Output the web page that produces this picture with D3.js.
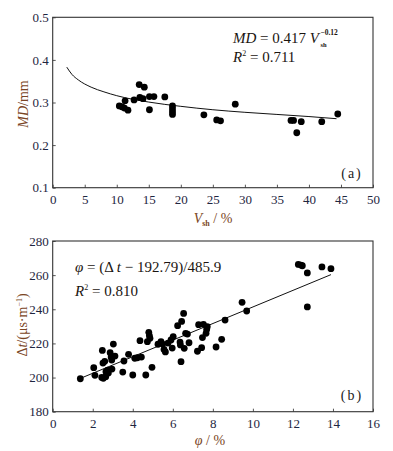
<!DOCTYPE html>
<html>
<head>
<meta charset="utf-8">
<script src="https://cdn.jsdelivr.net/npm/d3@7"></script>
<style>
  body { margin: 0; background: #fff; }
  svg { display: block; }
  text { font-family: "Liberation Serif", "DejaVu Serif", serif; }
</style>
</head>
<body>
<div id="app"></div>
<script>
// (a) mean diameter vs shale content
const vsh = [10.4, 10.8, 11.3, 11.2, 11.75, 12.7, 13.5, 14.3, 13.6, 14.1, 15.1, 15.1, 15.8, 17.5,
  18.7, 18.7, 18.7, 18.7, 23.6, 25.6, 26.2, 28.5, 37.2, 37.6, 38.1, 38.8, 42.0, 44.5];
const md = [0.292, 0.290, 0.304, 0.287, 0.282, 0.306, 0.342, 0.336, 0.312, 0.309, 0.314, 0.283, 0.314, 0.313,
  0.292, 0.285, 0.278, 0.272, 0.271, 0.259, 0.257, 0.296, 0.258, 0.258, 0.229, 0.255, 0.255, 0.273];
// fitted curve
const fitAx = [2.2, 3, 4, 6, 8, 10, 15, 20, 25, 30, 35, 40, 44.3];
const fitAy = [0.383, 0.366, 0.353, 0.336, 0.325, 0.316, 0.301, 0.291, 0.283, 0.277, 0.272, 0.267, 0.262];
const xTicksA = [0, 5, 10, 15, 20, 25, 30, 35, 40, 45, 50];
const yTicksA = [0.1, 0.2, 0.3, 0.4, 0.5];

// (b) interval transit time vs porosity
const phi = [1.38, 2.05, 2.11, 2.45, 2.48, 2.51, 2.6, 2.65, 2.66, 2.75, 2.78, 2.53, 2.87, 2.92, 2.95, 3.03,
  3.11, 2.96, 3.5, 3.56, 3.79, 4.0, 4.1, 4.23, 4.36, 4.43, 4.65, 4.73, 4.8, 4.83, 4.86, 4.96,
  5.26, 5.41, 5.49, 5.56, 5.63, 5.76, 5.91, 5.97, 6.02, 6.24, 6.36, 6.38, 6.41, 6.44, 6.54, 6.57,
  6.64, 6.73, 6.81, 7.23, 7.29, 7.44, 7.48, 7.53, 7.66, 7.69, 7.72, 8.16, 8.44, 8.61, 9.46, 9.69,
  12.27, 12.4, 12.47, 12.72, 12.72, 13.45, 13.9];
const dt = [199.3, 205.8, 201.3, 200.1, 215.9, 208.5, 209.5, 200.5, 203.4, 204.4, 202.7, 199.6, 214.6, 212.0, 210.3, 219.6,
  212.6, 205.0, 203.2, 209.7, 213.6, 201.5, 211.3, 211.6, 221.6, 212.0, 201.5, 221.0, 226.5, 224.5, 223.0, 206.0,
  219.5, 221.0, 219.6, 216.5, 215.0, 220.2, 222.0, 217.3, 224.0, 230.4, 220.8, 219.1, 209.3, 232.9, 237.6, 217.1,
  225.9, 225.5, 220.4, 215.4, 231.0, 217.5, 223.4, 231.2, 225.9, 228.2, 229.8, 217.9, 222.4, 233.7, 244.1, 239.0,
  266.3, 265.9, 265.5, 261.3, 241.4, 264.8, 263.8];
const fitBx = [1.4, 13.9];
const fitBy = [199.6, 260.3];
const xTicksB = [0, 2, 4, 6, 8, 10, 12, 14, 16];
const yTicksB = [180, 200, 220, 240, 260, 280];

const width = 393, height = 451;
const tickColor = "#1e2640";
const titleColor = "#7a4524";
const inkColor = "#1a1410";

const svg = d3.select("#app").append("svg")
  .attr("width", width).attr("height", height)
  .attr("viewBox", [0, 0, width, height]);

function panel(o) {
  const x = d3.scaleLinear().domain(o.xDomain).range([o.left, o.right]);
  const y = d3.scaleLinear().domain(o.yDomain).range([o.bottom, o.top]);
  const g = svg.append("g");

  const xAxis = g.append("g")
    .attr("transform", `translate(0,${o.bottom})`)
    .call(d3.axisBottom(x).tickValues(o.xTicks).tickSize(-3).tickSizeOuter(0).tickPadding(7));
  const yAxis = g.append("g")
    .attr("transform", `translate(${o.left},0)`)
    .call(d3.axisLeft(y).tickValues(o.yTicks).tickSize(-3).tickSizeOuter(0).tickPadding(4)
      .tickFormat(o.yFormat || null));
  [xAxis, yAxis].forEach(a => {
    a.select(".domain").remove();
    a.selectAll(".tick line").attr("stroke", "#555");
    a.selectAll(".tick text")
      .attr("fill", tickColor)
      .style("font-size", "13px")
      .style("font-family", "'Liberation Serif', serif");
  });

  // frame
  g.append("rect")
    .attr("x", o.left).attr("y", o.top)
    .attr("width", o.right - o.left).attr("height", o.bottom - o.top)
    .attr("fill", "none").attr("stroke", "#333").attr("stroke-width", 1.1);

  // fit line
  const pts = o.fitX.map((v, i) => [v, o.fitY[i]]);
  g.append("path")
    .datum(pts)
    .attr("fill", "none").attr("stroke", "#111").attr("stroke-width", 1)
    .attr("d", d3.line().x(d => x(d[0])).y(d => y(d[1])).curve(d3.curveMonotoneX));

  // points
  g.append("g").selectAll("circle")
    .data(o.xs.map((v, i) => [v, o.ys[i]]))
    .join("circle")
    .attr("cx", d => x(d[0])).attr("cy", d => y(d[1]))
    .attr("r", 3.4).attr("fill", "#000");

  // panel tag
  g.append("text")
    .attr("x", o.tagX).attr("y", o.tagY)
    .attr("text-anchor", "middle")
    .attr("fill", "#222")
    .style("font-size", "14px")
    .style("letter-spacing", "2px")
    .text(o.tag);

  return { g, x, y };
}

const a = panel({
  left: 52.7, right: 373, top: 17.3, bottom: 187.7,
  xDomain: [0, 50], yDomain: [0.1, 0.5],
  xTicks: xTicksA, yTicks: yTicksA, yFormat: d3.format(".1f"),
  xs: vsh, ys: md, fitX: fitAx, fitY: fitAy,
  tag: "(a)", tagX: 352, tagY: 178
});

const b = panel({
  left: 52.7, right: 373, top: 241, bottom: 411.7,
  xDomain: [0, 16], yDomain: [180, 280],
  xTicks: xTicksB, yTicks: yTicksB,
  xs: phi, ys: dt, fitX: fitBx, fitY: fitBy,
  tag: "(b)", tagX: 352, tagY: 400
});

// equation (a)
const eqA = svg.append("text").attr("x", 233).attr("y", 43)
  .attr("fill", inkColor).style("font-size", "15px");
eqA.append("tspan").style("font-style", "italic").text("MD");
eqA.append("tspan").text(" = 0.417 ");
eqA.append("tspan").style("font-style", "italic").text("V");
// exponent and subscript sit stacked just after the V
const eqEnd = 233 + eqA.node().getComputedTextLength() + 1.5;
svg.append("text").attr("x", eqEnd).attr("y", 34.5).attr("fill", inkColor)
  .style("font-size", "7.5px").style("font-weight", "bold").text("−0.12");
svg.append("text").attr("x", eqEnd).attr("y", 47).attr("fill", inkColor)
  .style("font-size", "6.5px").style("font-weight", "bold").text("sh");

const r2A = svg.append("text").attr("x", 233).attr("y", 62)
  .attr("fill", inkColor).style("font-size", "15px");
r2A.append("tspan").style("font-style", "italic").text("R");
r2A.append("tspan").attr("dy", -6).style("font-size", "8px").text("2");
r2A.append("tspan").attr("dy", 6).text(" = 0.711");

// equation (b)
const eqB = svg.append("text").attr("x", 75).attr("y", 272)
  .attr("fill", inkColor).style("font-size", "15px");
eqB.append("tspan").style("font-style", "italic").text("φ");
eqB.append("tspan").text(" = (Δ ");
eqB.append("tspan").style("font-style", "italic").text("t");
eqB.append("tspan").text(" − 192.79)/485.9");

const r2B = svg.append("text").attr("x", 75).attr("y", 296)
  .attr("fill", inkColor).style("font-size", "15px");
r2B.append("tspan").style("font-style", "italic").text("R");
r2B.append("tspan").attr("dy", -6).style("font-size", "8px").text("2");
r2B.append("tspan").attr("dy", 6).text(" = 0.810");

// axis titles
const tA = svg.append("text").attr("x", 213).attr("y", 223)
  .attr("text-anchor", "middle").attr("fill", titleColor).style("font-size", "14px");
tA.append("tspan").style("font-style", "italic").text("V");
tA.append("tspan").attr("dy", 3).style("font-size", "8px").style("font-weight", "bold").text("sh");
tA.append("tspan").attr("dy", -3).text(" / %");

const yA = svg.append("text")
  .attr("transform", "translate(28,104) rotate(-90)")
  .attr("text-anchor", "middle").attr("fill", titleColor).style("font-size", "14px");
yA.append("tspan").style("font-style", "italic").text("MD");
yA.append("tspan").text("/mm");

const tB = svg.append("text").attr("x", 210).attr("y", 445)
  .attr("text-anchor", "middle").attr("fill", titleColor).style("font-size", "14px");
tB.append("tspan").style("font-style", "italic").text("φ");
tB.append("tspan").text(" / %");

const yB = svg.append("text")
  .attr("transform", "translate(27,325) rotate(-90)")
  .attr("text-anchor", "middle").attr("fill", titleColor).style("font-size", "14px");
yB.append("tspan").text("Δ");
yB.append("tspan").style("font-style", "italic").text("t");
yB.append("tspan").text("/(μs·m");
yB.append("tspan").attr("dy", -5).style("font-size", "8px").text("−1");
yB.append("tspan").attr("dy", 5).text(")");
</script>
</body>
</html>
